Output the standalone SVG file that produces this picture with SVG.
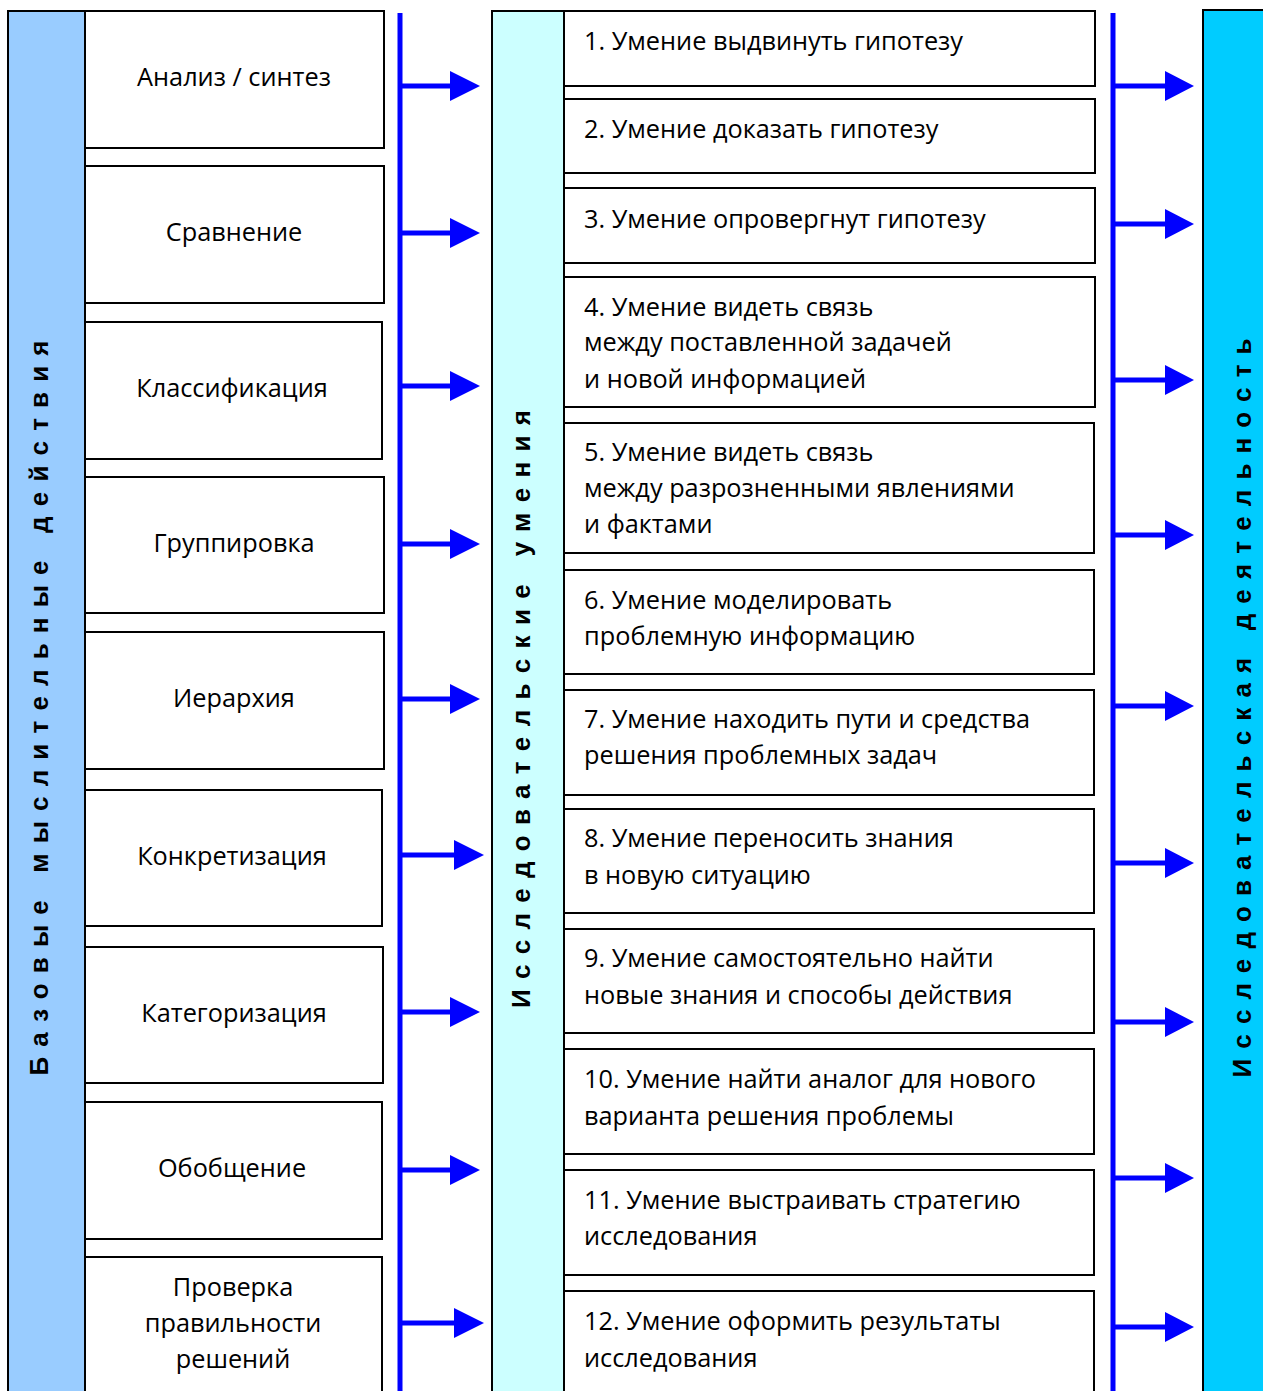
<svg xmlns="http://www.w3.org/2000/svg" width="1263" height="1391" viewBox="0 0 1263 1391">
<defs>
<style>
.box{fill:#fff;stroke:#000;stroke-width:2}
.t{font-family:"Open Sans","Liberation Sans",sans-serif;font-size:25.3px;fill:#000}
.c{text-anchor:middle}
.v{font-family:"Liberation Sans",Arial,sans-serif;font-weight:bold;font-size:26px;fill:#000;text-anchor:middle}
.bl{stroke:#0000ff;stroke-width:5;fill:none}
.ah{fill:#0000ff}
</style>
</defs>
<rect width="1263" height="1391" fill="#fff"/>
<g id="bar-left">
<rect x="8" y="11" width="77" height="1392" fill="#99ccff" stroke="#000" stroke-width="2"/>
<text class="v" transform="translate(48,708) rotate(-90)" textLength="735" lengthAdjust="spacing">Базовые мыслительные действия</text>
</g>
<g id="left-nodes">
<g id="l1"><rect class="box" x="85" y="11" width="299" height="137"/><text class="t c" x="234" y="86">Анализ / синтез</text></g>
<g id="l2"><rect class="box" x="85" y="166" width="299" height="137"/><text class="t c" x="234" y="241">Сравнение</text></g>
<g id="l3"><rect class="box" x="85" y="322" width="297" height="137"/><text class="t c" x="232" y="397">Классификация</text></g>
<g id="l4"><rect class="box" x="85" y="477" width="299" height="136"/><text class="t c" x="234" y="552">Группировка</text></g>
<g id="l5"><rect class="box" x="85" y="632" width="299" height="137"/><text class="t c" x="234" y="707">Иерархия</text></g>
<g id="l6"><rect class="box" x="85" y="790" width="297" height="136"/><text class="t c" x="232" y="865">Конкретизация</text></g>
<g id="l7"><rect class="box" x="85" y="947" width="298" height="136"/><text class="t c" x="234" y="1022">Категоризация</text></g>
<g id="l8"><rect class="box" x="85" y="1102" width="297" height="137"/><text class="t c" x="232" y="1177">Обобщение</text></g>
<g id="l9"><rect class="box" x="85" y="1257" width="297" height="140"/><text class="t c" x="233" y="1296">Проверка</text><text class="t c" x="233" y="1332">правильности</text><text class="t c" x="233" y="1368">решений</text></g>
</g>
<g id="bar-mid">
<rect x="492" y="11" width="72" height="1392" fill="#ccffff" stroke="#000" stroke-width="2"/>
<text class="v" transform="translate(530,709) rotate(-90)" textLength="598" lengthAdjust="spacing">Исследовательские умения</text>
</g>
<g id="mid-nodes">
<g id="m1"><rect class="box" x="564" y="11" width="531" height="75"/><text class="t" x="584" y="50">1. Умение выдвинуть гипотезу</text></g>
<g id="m2"><rect class="box" x="564" y="99" width="531" height="74"/><text class="t" x="584" y="138">2. Умение доказать гипотезу</text></g>
<g id="m3"><rect class="box" x="564" y="188" width="531" height="75"/><text class="t" x="584" y="228">3. Умение опровергнут гипотезу</text></g>
<g id="m4"><rect class="box" x="564" y="277" width="531" height="130"/><text class="t" x="584" y="316">4. Умение видеть связь</text><text class="t" x="584" y="351">между поставленной задачей</text><text class="t" x="584" y="388">и новой информацией</text></g>
<g id="m5"><rect class="box" x="564" y="423" width="530" height="130"/><text class="t" x="584" y="461">5. Умение видеть связь</text><text class="t" x="584" y="497">между разрозненными явлениями</text><text class="t" x="584" y="533">и фактами</text></g>
<g id="m6"><rect class="box" x="564" y="570" width="530" height="104"/><text class="t" x="584" y="609">6. Умение моделировать</text><text class="t" x="584" y="645">проблемную информацию</text></g>
<g id="m7"><rect class="box" x="564" y="690" width="530" height="105"/><text class="t" x="584" y="728">7. Умение находить пути и средства</text><text class="t" x="584" y="764">решения проблемных задач</text></g>
<g id="m8"><rect class="box" x="564" y="809" width="530" height="104"/><text class="t" x="584" y="847">8. Умение переносить знания</text><text class="t" x="584" y="884">в новую ситуацию</text></g>
<g id="m9"><rect class="box" x="564" y="929" width="530" height="104"/><text class="t" x="584" y="967">9. Умение самостоятельно найти</text><text class="t" x="584" y="1004">новые знания и способы действия</text></g>
<g id="m10"><rect class="box" x="564" y="1049" width="530" height="105"/><text class="t" x="584" y="1088">10. Умение найти аналог для нового</text><text class="t" x="584" y="1125">варианта решения проблемы</text></g>
<g id="m11"><rect class="box" x="564" y="1170" width="530" height="105"/><text class="t" x="584" y="1209">11. Умение выстраивать стратегию</text><text class="t" x="584" y="1245">исследования</text></g>
<g id="m12"><rect class="box" x="564" y="1291" width="530" height="110"/><text class="t" x="584" y="1330">12. Умение оформить результаты</text><text class="t" x="584" y="1367">исследования</text></g>
</g>
<g id="bar-right">
<rect x="1203" y="10" width="62" height="1392" fill="#00ccff" stroke="#000" stroke-width="2"/>
<text class="v" transform="translate(1251,708) rotate(-90)" textLength="739" lengthAdjust="spacing">Исследовательская деятельность</text>
</g>
<g id="connectors">
<line class="bl" x1="400" y1="13" x2="400" y2="1391"/>
<line class="bl" x1="1113" y1="13" x2="1113" y2="1391"/>
<g id="left-arrows">
<line class="bl" x1="400" y1="86" x2="452" y2="86"/><polygon class="ah" points="450,71 480,86 450,101"/>
<line class="bl" x1="400" y1="233" x2="452" y2="233"/><polygon class="ah" points="450,218 480,233 450,248"/>
<line class="bl" x1="400" y1="386" x2="452" y2="386"/><polygon class="ah" points="450,371 480,386 450,401"/>
<line class="bl" x1="400" y1="544" x2="452" y2="544"/><polygon class="ah" points="450,529 480,544 450,559"/>
<line class="bl" x1="400" y1="699" x2="452" y2="699"/><polygon class="ah" points="450,684 480,699 450,714"/>
<line class="bl" x1="400" y1="855" x2="456" y2="855"/><polygon class="ah" points="454,840 484,855 454,870"/>
<line class="bl" x1="400" y1="1012" x2="452" y2="1012"/><polygon class="ah" points="450,997 480,1012 450,1027"/>
<line class="bl" x1="400" y1="1170" x2="452" y2="1170"/><polygon class="ah" points="450,1155 480,1170 450,1185"/>
<line class="bl" x1="400" y1="1323" x2="456" y2="1323"/><polygon class="ah" points="454,1308 484,1323 454,1338"/>
</g>
<g id="right-arrows">
<line class="bl" x1="1113" y1="86" x2="1167" y2="86"/><polygon class="ah" points="1165,71 1194,86 1165,101"/>
<line class="bl" x1="1113" y1="224" x2="1167" y2="224"/><polygon class="ah" points="1165,209 1194,224 1165,239"/>
<line class="bl" x1="1113" y1="380" x2="1167" y2="380"/><polygon class="ah" points="1165,365 1194,380 1165,395"/>
<line class="bl" x1="1113" y1="535" x2="1167" y2="535"/><polygon class="ah" points="1165,520 1194,535 1165,550"/>
<line class="bl" x1="1113" y1="706" x2="1167" y2="706"/><polygon class="ah" points="1165,691 1194,706 1165,721"/>
<line class="bl" x1="1113" y1="863" x2="1167" y2="863"/><polygon class="ah" points="1165,848 1194,863 1165,878"/>
<line class="bl" x1="1113" y1="1022" x2="1167" y2="1022"/><polygon class="ah" points="1165,1007 1194,1022 1165,1037"/>
<line class="bl" x1="1113" y1="1178" x2="1167" y2="1178"/><polygon class="ah" points="1165,1163 1194,1178 1165,1193"/>
<line class="bl" x1="1113" y1="1327" x2="1167" y2="1327"/><polygon class="ah" points="1165,1312 1194,1327 1165,1342"/>
</g>
</g>
</svg>
